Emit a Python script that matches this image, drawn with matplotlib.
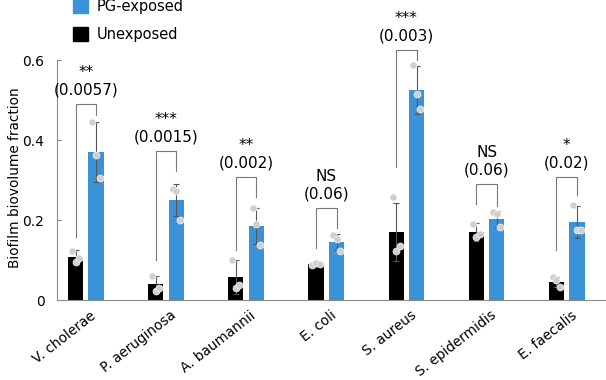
import numpy as np
import matplotlib.pyplot as plt
from matplotlib.transforms import ScaledTranslation

species = ['V. cholerae', 'P. aeruginosa', 'A. baumannii', 'E. coli',
           'S. aureus', 'S. epidermidis', 'E. faecalis']

# means
unexp_mean = [0.107, 0.040, 0.057, 0.090, 0.170, 0.170, 0.045]
pg_mean = [0.370, 0.250, 0.185, 0.145, 0.525, 0.202, 0.195]
# standard deviations
unexp_sd = [0.017, 0.020, 0.042, 0.004, 0.073, 0.022, 0.013]
pg_sd = [0.075, 0.040, 0.045, 0.020, 0.060, 0.020, 0.040]
# replicate points
unexp_pts = [[0.123, 0.095, 0.105], [0.060, 0.023, 0.030], [0.100, 0.030, 0.038],
             [0.088, 0.092, 0.090], [0.257, 0.123, 0.135], [0.190, 0.158, 0.165],
             [0.057, 0.050, 0.033]]
pg_pts = [[0.445, 0.362, 0.305], [0.277, 0.272, 0.200], [0.230, 0.190, 0.137],
          [0.162, 0.153, 0.122], [0.587, 0.515, 0.477], [0.220, 0.215, 0.183],
          [0.237, 0.175, 0.175]]
# significance brackets: top, left leg bottom, right leg bottom
br_top = [0.490, 0.372, 0.307, 0.230, 0.625, 0.290, 0.307]
br_left = [0.157, 0.100, 0.125, 0.130, 0.332, 0.240, 0.125]
br_right = [0.462, 0.322, 0.257, 0.180, 0.600, 0.235, 0.262]
stars = ['**', '***', '**', 'NS', '***', 'NS', '*']
pvals = ['(0.0057)', '(0.0015)', '(0.002)', '(0.06)', '(0.003)', '(0.06)', '(0.02)']

blue = '#3b92d6'
axcol = '#8a8a8a'

fig = plt.figure(figsize=(6.06, 3.8), dpi=100)
ax = fig.add_axes([0.094, 0.2105, 0.906, 0.7895])

x = np.arange(len(species))
off = 0.128
w = 0.19

ax.bar(x - off, unexp_mean, w, color='black', zorder=2)
ax.bar(x + off, pg_mean, w, color=blue, zorder=2)
ax.errorbar(x - off, unexp_mean, yerr=unexp_sd, fmt='none', ecolor='#555555',
            elinewidth=0.8, capsize=2, capthick=0.8, zorder=3)
ax.errorbar(x + off, pg_mean, yerr=pg_sd, fmt='none', ecolor='#555555',
            elinewidth=0.8, capsize=2, capthick=0.8, zorder=3)

jit = [-0.045, 0.0, 0.045]
for i in range(len(species)):
    for j in range(3):
        ax.scatter(x[i] - off + jit[j], unexp_pts[i][j],
                   s=26, color='#cfcfcf', edgecolor='white', linewidth=0.4, zorder=4)
        ax.scatter(x[i] + off + jit[j], pg_pts[i][j],
                   s=26, color='#cfcfcf', edgecolor='white', linewidth=0.4, zorder=4)

for i in range(len(species)):
    xl, xr = x[i] - off, x[i] + off
    ax.plot([xl, xl, xr, xr], [br_left[i], br_top[i], br_top[i], br_right[i]],
            color='#777777', lw=0.8, zorder=1)
    ax.text(x[i], br_top[i] + 0.08, stars[i], ha='center', va='center', fontsize=11)
    ax.text(x[i], br_top[i] + 0.036, pvals[i], ha='center', va='center', fontsize=11)

ax.set_xlim(-0.36, 6.49)
ax.set_ylim(0, 0.75)
ax.spines['top'].set_visible(False)
ax.spines['right'].set_visible(False)
ax.spines['left'].set_bounds(0, 0.6)
ax.spines['left'].set_color(axcol)
ax.spines['bottom'].set_color(axcol)
ax.set_yticks([0, 0.2, 0.4, 0.6])
ax.set_yticklabels(['0', '0.2', '0.4', '0.6'], fontsize=10)
ax.tick_params(axis='y', direction='in', length=3, color=axcol, pad=9)
ax.set_xticks(x)
ax.set_xticklabels(species, rotation=38, ha='right', va='top',
                   rotation_mode='anchor', fontsize=9.8)
ax.tick_params(axis='x', length=0, pad=6)
shift = ScaledTranslation(4 / 100, 0, fig.dpi_scale_trans)
for lab in ax.get_xticklabels():
    lab.set_transform(lab.get_transform() + shift)
ax.set_ylabel('Biofilm biovolume fraction', fontsize=9.8)
ax.yaxis.set_label_coords(-0.064, 0.407)

# legend drawn as patches in figure coords
fig.patches.append(plt.Rectangle((73 / 606, 1 - 13 / 380), 15 / 606, 15 / 380,
                                 transform=fig.transFigure, color=blue))
fig.patches.append(plt.Rectangle((73 / 606, 1 - 41 / 380), 15 / 606, 14 / 380,
                                 transform=fig.transFigure, color='black'))
fig.text(97 / 606, 1 - 7 / 380, 'PG-exposed', va='center', fontsize=10.5)
fig.text(97 / 606, 1 - 34 / 380, 'Unexposed', va='center', fontsize=10.5)

fig.savefig('out.png', dpi=100)
